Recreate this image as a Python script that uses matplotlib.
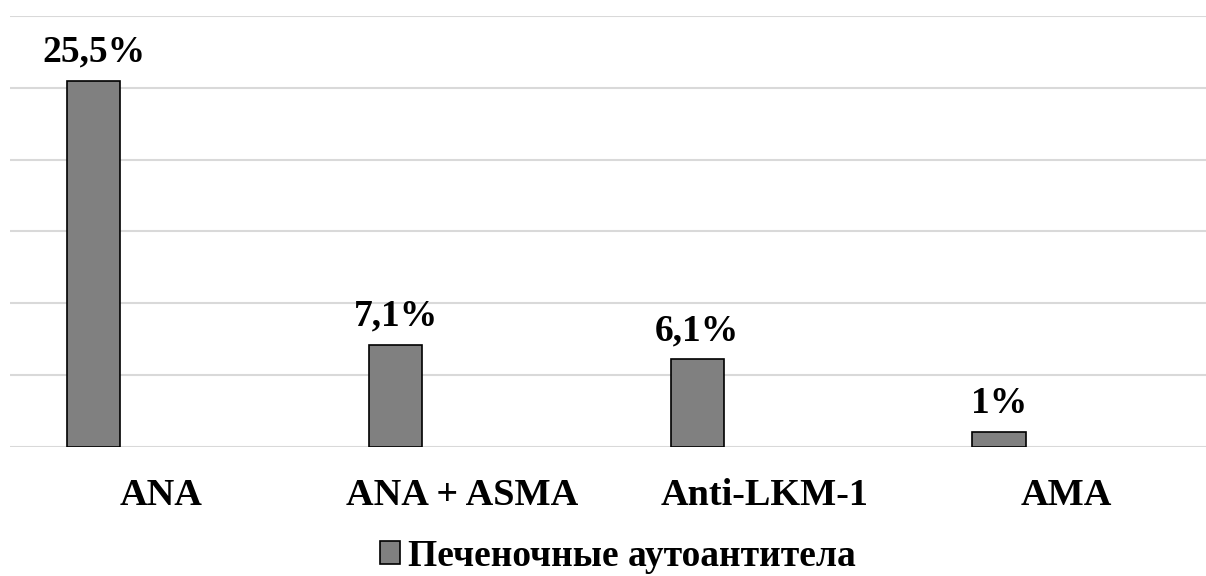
import matplotlib

matplotlib.use("Agg")
import matplotlib.pyplot as plt
from matplotlib.patches import Patch

categories = ["ANA", "ANA + ASMA", "Anti-LKM-1", "AMA"]
values = [25.5, 7.1, 6.1, 1.0]
value_labels = ["25,5%", "7,1%", "6,1%", "1%"]
series_name = "Печеночные аутоантитела"

plt.rcParams["font.family"] = ["Liberation Serif", "DejaVu Serif"]
plt.rcParams["font.weight"] = "bold"

W, H, DPI = 1206, 576, 100
fig = plt.figure(figsize=(W / DPI, H / DPI), dpi=DPI)

# plot area in pixels: starts at x=10, slots are ~301.7 px wide (last slot runs off the edge)
slot_px = 301.7
left_px, base_px, top_px = 10, 446.5, 16
ax = fig.add_axes([left_px / W, (H - base_px) / H, (W - left_px) / W, (base_px - top_px) / H])
ax.set_xlim(-0.5, -0.5 + (W - left_px) / slot_px)
ax.set_ylim(0, 30)

x = list(range(len(categories)))
offset, width = -0.222, 0.176
bars = ax.bar([i + offset for i in x], values, width=width, color="#808080",
              edgecolor="black", linewidth=1.2, zorder=3)

for rect, lbl in zip(bars, value_labels):
    ax.annotate(lbl, xy=(rect.get_x() + rect.get_width() / 2, rect.get_height()),
                xytext=(0, 13.5), textcoords="offset points", ha="center", va="baseline",
                fontsize=27, fontweight="bold")

ax.set_yticks([0, 5, 10, 15, 20, 25, 30])
ax.yaxis.grid(True, color="#d9d9d9", linewidth=1.5, zorder=0)
ax.set_yticklabels([])
ax.tick_params(axis="y", length=0)

ax.set_xticks(x)
ax.set_xticklabels(categories, fontsize=27.5, fontweight="bold")
ax.tick_params(axis="x", length=0, pad=23)

for side in ax.spines.values():
    side.set_visible(False)

handle = Patch(facecolor="#808080", edgecolor="black", linewidth=1.2)
fig.legend([handle], [series_name], loc="center", bbox_to_anchor=(0.512, 1 - 556 / H),
           frameon=False, prop={"weight": "bold", "size": 27},
           handlelength=0.55, handleheight=0.55, handletextpad=0.2)

fig.savefig("out.png", dpi=DPI)
